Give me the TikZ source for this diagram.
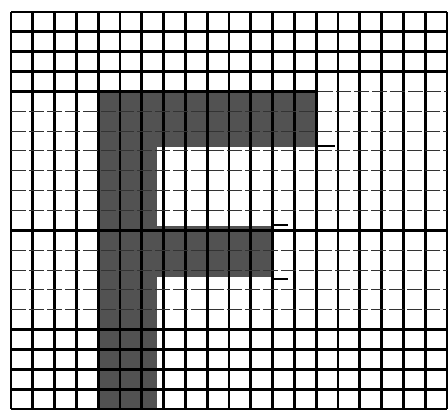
\documentclass[tikz,border=0pt]{standalone}
\usepackage{tikz}
\usetikzlibrary{calc}

\begin{document}
\begin{tikzpicture}[x=1pt, y=-1pt,
    thickrule/.style={line width=2.9pt},
    thinrule/.style={line width=1pt, black!80, dash pattern=on 15pt off 3pt},
    letterfill/.style={fill=black!68}]
      \useasboundingbox (0,0) rectangle (448,412);

      % Letter F (shaded cells)
      \fill[letterfill] (97,93) rectangle (318,147);
      \fill[letterfill] (97,147) rectangle (157,409);
      \fill[letterfill] (157,226) rectangle (273,277);

      % Short strokes at the ends of the bars
      \draw[line width=1.8pt] (318,146) -- (335,146);
      \draw[line width=1.3pt] (273,225) -- (288,225);
      \draw[line width=1.8pt] (273,279) -- (288,279);

      % Vertical lines
      \foreach \j in {0,...,20}
        \draw[thickrule] ({11+21.8*\j},12) -- ({11+21.8*\j},409);

      % Horizontal lines
      \foreach \i in {0,1,2,3,11,16,17,18,19,20}
        \draw[thickrule] (11,{12+19.85*\i}) -- (447,{12+19.85*\i});
      \foreach \i in {5,6,7,8,9,10,12,13,14,15}
        \draw[thinrule] (11,{12+19.85*\i}) -- (447,{12+19.85*\i});
      \draw[thickrule] (11,91.4) -- (318,91.4);
      \draw[thinrule] (318,91.4) -- (447,91.4);
    \end{tikzpicture}
\end{document}
